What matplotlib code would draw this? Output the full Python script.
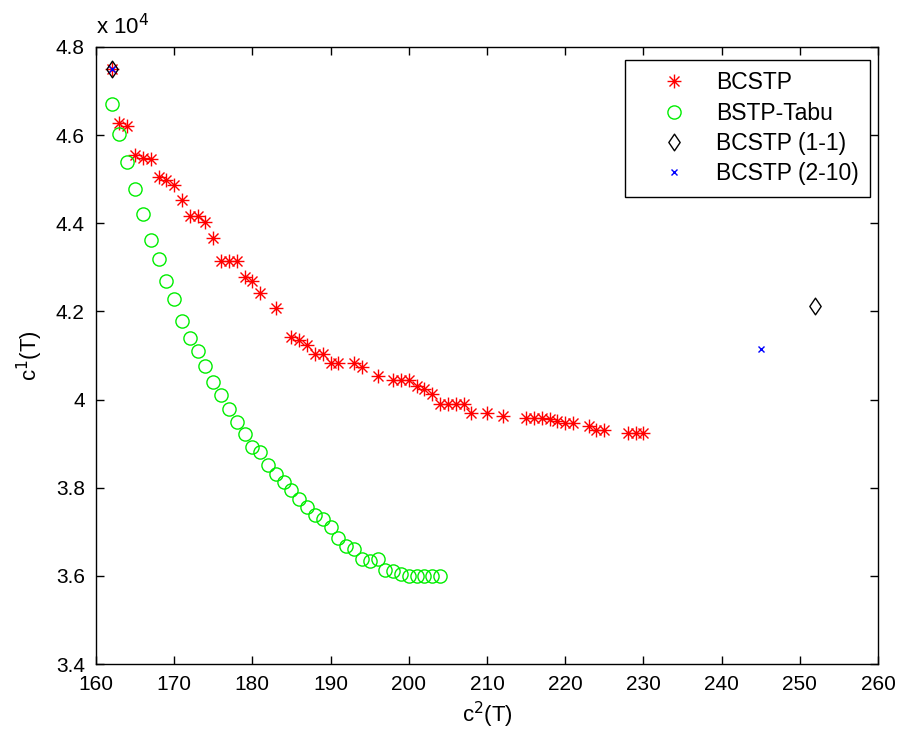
import matplotlib
matplotlib.use("Agg")
import matplotlib.pyplot as plt
from matplotlib.path import Path
from matplotlib.ticker import FuncFormatter

plt.rcParams['font.family'] = ['Liberation Sans', 'DejaVu Sans']

# BCSTP (red asterisks)
bcstp_x = [162, 163, 164, 165, 166, 167, 168, 169, 170, 171, 172, 173, 174, 175,
           176, 177, 178, 179, 180, 181, 183, 185, 186, 187, 188, 189, 190, 191,
           193, 194, 196, 198, 199, 200, 201, 202, 203, 204, 205, 206, 207, 208,
           210, 212, 215, 216, 217, 218, 219, 220, 221, 223, 224, 225, 228, 229, 230]
bcstp_y = [47500, 46280, 46210, 45550, 45470, 45450, 45060, 44980, 44870, 44530,
           44160, 44160, 44030, 43670, 43150, 43150, 43150, 42790, 42700, 42420,
           42070, 41420, 41350, 41230, 41030, 41030, 40820, 40820, 40820, 40740,
           40530, 40440, 40440, 40440, 40300, 40250, 40120, 39910, 39910, 39910,
           39910, 39700, 39700, 39620, 39590, 39590, 39590, 39550, 39520, 39460,
           39470, 39400, 39300, 39300, 39240, 39240, 39240]

# BSTP-Tabu (green circles)
tabu_x = [162, 163, 164, 165, 166, 167, 168, 169, 170, 171, 172, 173, 174, 175,
          176, 177, 178, 179, 180, 181, 182, 183, 184, 185, 186, 187, 188, 189,
          190, 191, 192, 193, 194, 195, 196, 197, 198, 199, 200, 201, 202, 203, 204]
tabu_y = [46710, 46020, 45400, 44780, 44210, 43620, 43180, 42680, 42280, 41790,
          41390, 41110, 40760, 40400, 40100, 39780, 39490, 39210, 38930, 38810,
          38510, 38320, 38130, 37940, 37750, 37560, 37380, 37300, 37110, 36850,
          36670, 36620, 36390, 36340, 36390, 36140, 36110, 36040, 35990, 35990,
          35990, 35990, 35990]

# BCSTP (1-1) (black diamonds)
b11_x = [162, 252]
b11_y = [47500, 42130]

# BCSTP (2-10) (blue crosses)
b210_x = [162, 245]
b210_y = [47500, 41140]

x_ticks = list(range(160, 261, 10))
y_ticks = [34000, 36000, 38000, 40000, 42000, 44000, 46000, 48000]

# MATLAB-like asterisk marker (+ and x superimposed)
d = 0.72
asterisk = Path([(-1, 0), (1, 0), (0, -1), (0, 1), (-d, -d), (d, d), (-d, d), (d, -d)],
                [Path.MOVETO, Path.LINETO] * 4)
# MATLAB-like diamond (taller than wide)
diamond = Path([(0, 1), (0.68, 0), (0, -1), (-0.68, 0), (0, 1)],
               [Path.MOVETO, Path.LINETO, Path.LINETO, Path.LINETO, Path.CLOSEPOLY])

fig = plt.figure(figsize=(9.01, 7.42), dpi=100)
ax = fig.add_axes([0.1065, 0.1051, 0.868, 0.8316])

ax.plot(bcstp_x, bcstp_y, linestyle='none', marker=asterisk, markersize=10,
        markeredgecolor='#ff0000', markerfacecolor='none', markeredgewidth=1.0, label='BCSTP')
ax.plot(tabu_x, tabu_y, linestyle='none', marker='o', markersize=9.5,
        markeredgecolor='#00ee00', markerfacecolor='none', markeredgewidth=1.0, label='BSTP-Tabu')
ax.plot(b11_x, b11_y, linestyle='none', marker=diamond, markersize=12,
        markeredgecolor='black', markerfacecolor='none', markeredgewidth=1.0, label='BCSTP (1-1)')
ax.plot(b210_x, b210_y, linestyle='none', marker='x', markersize=5,
        markeredgecolor='#0000ff', markeredgewidth=1.0, label='BCSTP (2-10)')

ax.set_xlim(160, 260)
ax.set_ylim(34000, 48000)
ax.set_xticks(x_ticks)
ax.set_yticks(y_ticks)
ax.yaxis.set_major_formatter(FuncFormatter(lambda v, p: f"{v/1e4:g}"))
ax.tick_params(direction='in', top=True, right=True, length=6, width=1.0,
               labelsize=15, colors='black')
ax.tick_params(axis='x', pad=8)
ax.tick_params(axis='y', pad=8)
for s in ax.spines.values():
    s.set_linewidth(1.0)

ax.text(0.0, 1.012, r'x 10$^{4}$', transform=ax.transAxes, fontsize=16,
        ha='left', va='bottom')

ax.set_xlabel(r'c$^{2}$(T)', fontsize=16, labelpad=4)
ax.set_ylabel(r'c$^{1}$(T)', fontsize=16, labelpad=8)

leg = ax.legend(loc='upper right', fontsize=16.5, frameon=True, fancybox=False,
                edgecolor='black', framealpha=1, borderpad=0.5, labelspacing=0.32,
                handlelength=3.27, handletextpad=0.2, borderaxespad=0,
                bbox_to_anchor=(0.9898, 0.979))
leg.get_frame().set_linewidth(1.0)

fig.savefig('out.png', dpi=100)
